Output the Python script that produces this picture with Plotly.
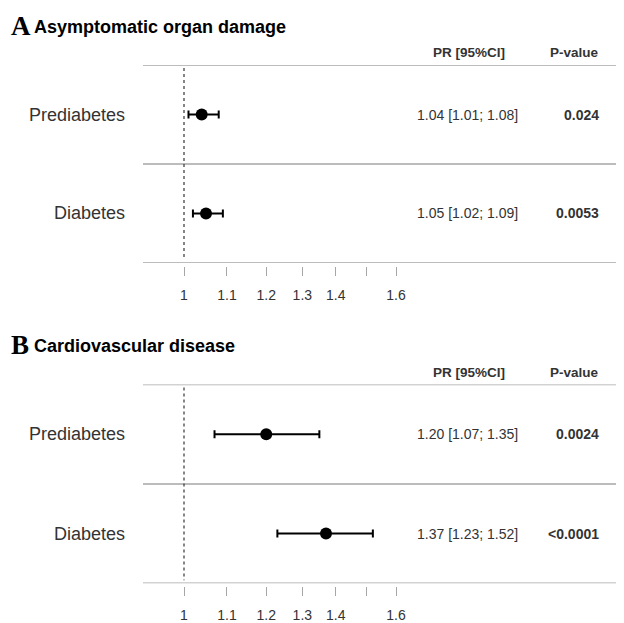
import plotly.graph_objects as go

# ---- data ----
categories = ["Prediabetes", "Diabetes"]
panel_letters = ["A", "B"]
panel_titles = ["Asymptomatic organ damage", "Cardiovascular disease"]
pr_a = [1.04, 1.05]
lo_a = [1.01, 1.02]
hi_a = [1.08, 1.09]
p_a = ["0.024", "0.0053"]
pr_b = [1.20, 1.37]
lo_b = [1.07, 1.23]
hi_b = [1.35, 1.52]
p_b = ["0.0024", "<0.0001"]
tick_vals = [1, 1.1, 1.2, 1.3, 1.4, 1.5, 1.6]
tick_text = ["1", "1.1", "1.2", "1.3", "1.4", "", "1.6"]
header_pr = "PR [95%CI]"
header_p = "P-value"

# page body has an 8px margin: figure is offset by 8px
OFF = 8
W, H = 624 - OFF, 623 - OFF
SANS = "Liberation Sans, Arial, sans-serif"
SERIF = "Liberation Serif, Times New Roman, serif"
GRAY = "#a6a6a6"
TXT = "#333333"

def py(px):
    return 1 - (px - OFF) / H

def pxx(px):
    return (px - OFF) / W

# log scale: value 1 at px 184, 1038.6 px per decade
PX_ONE = 184.0
PX_DEC = 1038.6
xrange = [(OFF - PX_ONE) / PX_DEC, (624 - PX_ONE) / PX_DEC]

panels = [
    dict(pr=pr_a, lo=lo_a, hi=hi_a, p=p_a, top=65.5, bot=264.5, title_y=26, head_y=53, ax_y=268,
         xa="x", ya="y", xname="xaxis", yname="yaxis"),
    dict(pr=pr_b, lo=lo_b, hi=hi_b, p=p_b, top=387, bot=587, title_y=347, head_y=375, ax_y=590,
         xa="x2", ya="y2", xname="xaxis2", yname="yaxis2"),
]

fig = go.Figure()
annotations = []
shapes = []
layout_axes = {}

for i, pn in enumerate(panels):
    fig.add_trace(go.Scatter(
        x=pn["pr"], y=categories, xaxis=pn["xa"], yaxis=pn["ya"],
        mode="markers",
        marker=dict(color="black", size=12, symbol="circle"),
        error_x=dict(type="data", symmetric=False,
                     array=[h - v for h, v in zip(pn["hi"], pn["pr"])],
                     arrayminus=[v - l for v, l in zip(pn["pr"], pn["lo"])],
                     color="black", thickness=2, width=4),
        showlegend=False, hoverinfo="skip",
    ))
    layout_axes[pn["xname"]] = dict(
        type="log", range=xrange, domain=[0, 1], anchor="free", position=py(pn["ax_y"]),
        showgrid=False, zeroline=False, showline=False,
        ticks="outside", ticklen=9, tickwidth=1, tickcolor=GRAY,
        tickvals=tick_vals, ticktext=tick_text,
        tickfont=dict(family=SANS, size=14, color=TXT),
        ticklabelstandoff=7, fixedrange=True,
    )
    layout_axes[pn["yname"]] = dict(
        type="category", categoryarray=categories, range=[1.5, -0.5],
        domain=[py(pn["bot"]), py(pn["top"])], anchor=pn["xa"],
        visible=False, fixedrange=True,
    )
    for yv in [-0.5, 0.5, 1.5]:
        shapes.append(dict(type="line", xref="paper", yref=pn["ya"],
                           x0=pxx(143), x1=1, y0=yv, y1=yv,
                           line=dict(color=GRAY, width=1.5)))
    shapes.append(dict(type="line", xref=pn["xa"], yref=pn["ya"],
                       x0=1, x1=1, y0=-0.47, y1=1.47,
                       line=dict(color="#333333", width=1.2, dash="dot")))
    annotations.append(dict(xref="paper", yref="paper", x=pxx(9), y=py(pn["title_y"]),
                            text="<b>%s</b>" % panel_letters[i], showarrow=False,
                            xanchor="left", yanchor="middle",
                            font=dict(family=SERIF, size=27, color="black")))
    annotations.append(dict(xref="paper", yref="paper", x=pxx(32), y=py(pn["title_y"] + 1),
                            text="<b>%s</b>" % panel_titles[i], showarrow=False,
                            xanchor="left", yanchor="middle",
                            font=dict(family=SANS, size=18, color="black")))
    annotations.append(dict(xref="paper", yref="paper", x=pxx(469), y=py(pn["head_y"]),
                            text="<b>%s</b>" % header_pr, showarrow=False,
                            xanchor="center", yanchor="middle",
                            font=dict(family=SANS, size=13.5, color=TXT)))
    annotations.append(dict(xref="paper", yref="paper", x=pxx(601), y=py(pn["head_y"]),
                            text="<b>%s</b>" % header_p, showarrow=False,
                            xanchor="right", yanchor="middle",
                            font=dict(family=SANS, size=13.5, color=TXT)))
    for j, cat in enumerate(categories):
        annotations.append(dict(xref="paper", yref=pn["ya"], x=pxx(127), y=cat,
                                text=cat, showarrow=False, xanchor="right", yanchor="middle",
                                font=dict(family=SANS, size=18, color=TXT)))
        annotations.append(dict(xref="paper", yref=pn["ya"], x=pxx(520), y=cat,
                                text="%.2f [%.2f; %.2f]" % (pn["pr"][j], pn["lo"][j], pn["hi"][j]),
                                showarrow=False, xanchor="right", yanchor="middle",
                                font=dict(family=SANS, size=14, color=TXT)))
        annotations.append(dict(xref="paper", yref=pn["ya"], x=pxx(601), y=cat,
                                text="<b>%s</b>" % pn["p"][j],
                                showarrow=False, xanchor="right", yanchor="middle",
                                font=dict(family=SANS, size=14, color=TXT)))

fig.update_layout(
    width=W, height=H, margin=dict(l=0, r=0, t=0, b=0),
    paper_bgcolor="white", plot_bgcolor="white",
    annotations=annotations, shapes=shapes, **layout_axes,
)

fig.write_html("out.html")
